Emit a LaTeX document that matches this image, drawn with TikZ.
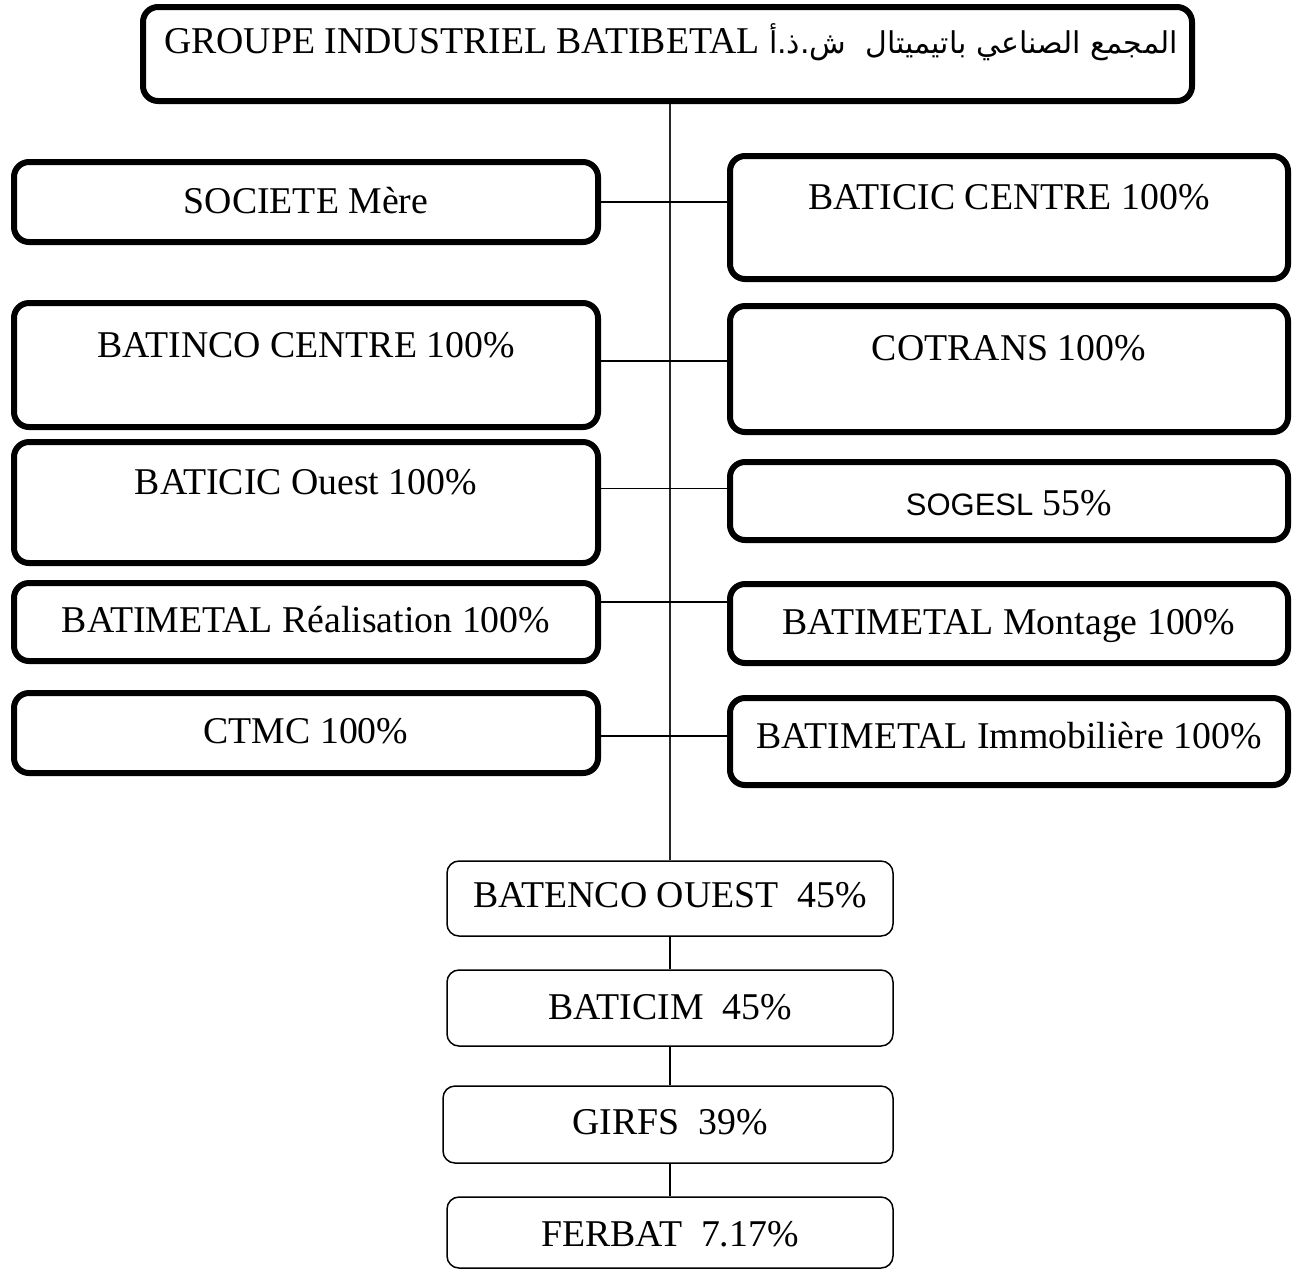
\documentclass[tikz,border=0pt]{standalone}
\usepackage{fontspec}
\setmainfont{Liberation Serif}
\setsansfont{Liberation Sans}
\newfontfamily\arabicfont[Script=Arabic]{DejaVu Sans}
\TeXXeTstate=1

\tikzset{
  boite/.style={draw,line width=3pt,rounded corners=7.5pt,inner sep=0pt,minimum width=292pt},
  boited/.style={boite,minimum width=279pt},
  petite/.style={draw,line width=0.75pt,rounded corners=6pt,inner sep=0pt,minimum width=223pt},
  lien/.style={line width=0.9pt},
  tronc/.style={line width=0.6pt,black!85},
  txt/.style={anchor=base,inner sep=0pt,font=\fontsize{18.9}{21}\selectfont}
}

\begin{document}
\begin{tikzpicture}[x=0.5pt,y=-0.5pt]
\useasboundingbox (0,0) rectangle (1294,1271);

% tete du groupe
\node[boite,minimum width=524.5pt,minimum height=47pt] (groupe) at (667.5,54) {};
\node[txt] (tgroupe) at (671,53) {GROUPE INDUSTRIEL BATIBETAL {\arabicfont\fontsize{15}{18}\selectfont\beginR المجمع الصناعي باتيميتال\ \ ش.ذ.أ\endR}};

% colonne gauche
\node[boite,minimum height=40pt] (societe) at (306,202) {};
\node[boite,minimum height=62pt] (batinco) at (306,365) {};
\node[boite,minimum height=60.5pt] (ouest) at (306,502.5) {};
\node[boite,minimum height=39pt] (reel) at (306,622) {};
\node[boite,minimum height=40pt] (ctmc) at (306,733) {};

\node[txt] (tsociete) at (306,213) {SOCIETE Mère};
\node[txt] (tbatinco) at (306,357) {BATINCO CENTRE 100\%};
\node[txt] (touest) at (306,494) {BATICIC Ouest 100\%};
\node[txt] (treel) at (306,632) {BATIMETAL Réalisation 100\%};
\node[txt] (tctmc) at (306,743) {CTMC 100\%};

% colonne droite
\node[boited,minimum height=61.5pt] (bcentre) at (1009,217.5) {};
\node[boited,minimum height=63pt] (cotrans) at (1009,369) {};
\node[boited,minimum height=39pt] (sogesl) at (1009,501) {};
\node[boited,minimum height=39.5pt] (montage) at (1009,623.5) {};
\node[boited,minimum height=43.5pt] (immob) at (1009,741.5) {};

\node[txt] (tbcentre) at (1009,209) {BATICIC CENTRE 100\%};
\node[txt] (tcotrans) at (1009,360) {COTRANS 100\%};
\node[txt] (tsogesl) at (1009,515) {{\sffamily\fontsize{15.5}{18}\selectfont SOGESL} 55\%};
\node[txt] (tmontage) at (1009,634) {BATIMETAL Montage 100\%};
\node[txt] (timmob) at (1009,748) {BATIMETAL Immobilière 100\%};

% participations
\node[petite,minimum height=37.5pt] (batenco) at (670,898.5) {};
\node[petite,minimum height=38pt] (baticim) at (670,1008) {};
\node[petite,minimum width=225pt,minimum height=38.5pt] (girfs) at (668,1124.5) {};
\node[petite,minimum height=35.5pt] (ferbat) at (670,1232.5) {};

\node[txt] (tbatenco) at (670,907) {BATENCO OUEST\ \ 45\%};
\node[txt] (tbaticim) at (670,1019) {BATICIM\ \ 45\%};
\node[txt] (tgirfs) at (670,1134) {GIRFS\ \ 39\%};
\node[txt] (tferbat) at (670,1246) {FERBAT\ \ 7.17\%};

% liaisons
\draw[tronc] (groupe.south -| batenco.north) -- (batenco.north);
\draw[lien] (societe.east) -- (societe.east -| bcentre.west);
\draw[lien] ([yshift=2pt]batinco.east) -- ([yshift=2pt]batinco.east -| cotrans.west);
\draw[lien] ([yshift=7pt]ouest.east) -- ([yshift=7pt]ouest.east -| sogesl.west);
\draw[lien] ([yshift=10pt]reel.east) -- ([yshift=10pt]reel.east -| montage.west);
\draw[lien] ([yshift=-1.5pt]ctmc.east) -- ([yshift=-1.5pt]ctmc.east -| immob.west);
\draw[lien] (batenco.south) -- (baticim.north);
\draw[lien] (baticim.south) -- (baticim.south |- girfs.north);
\draw[lien] (girfs.south -| ferbat.north) -- (ferbat.north);

\end{tikzpicture}
\end{document}
